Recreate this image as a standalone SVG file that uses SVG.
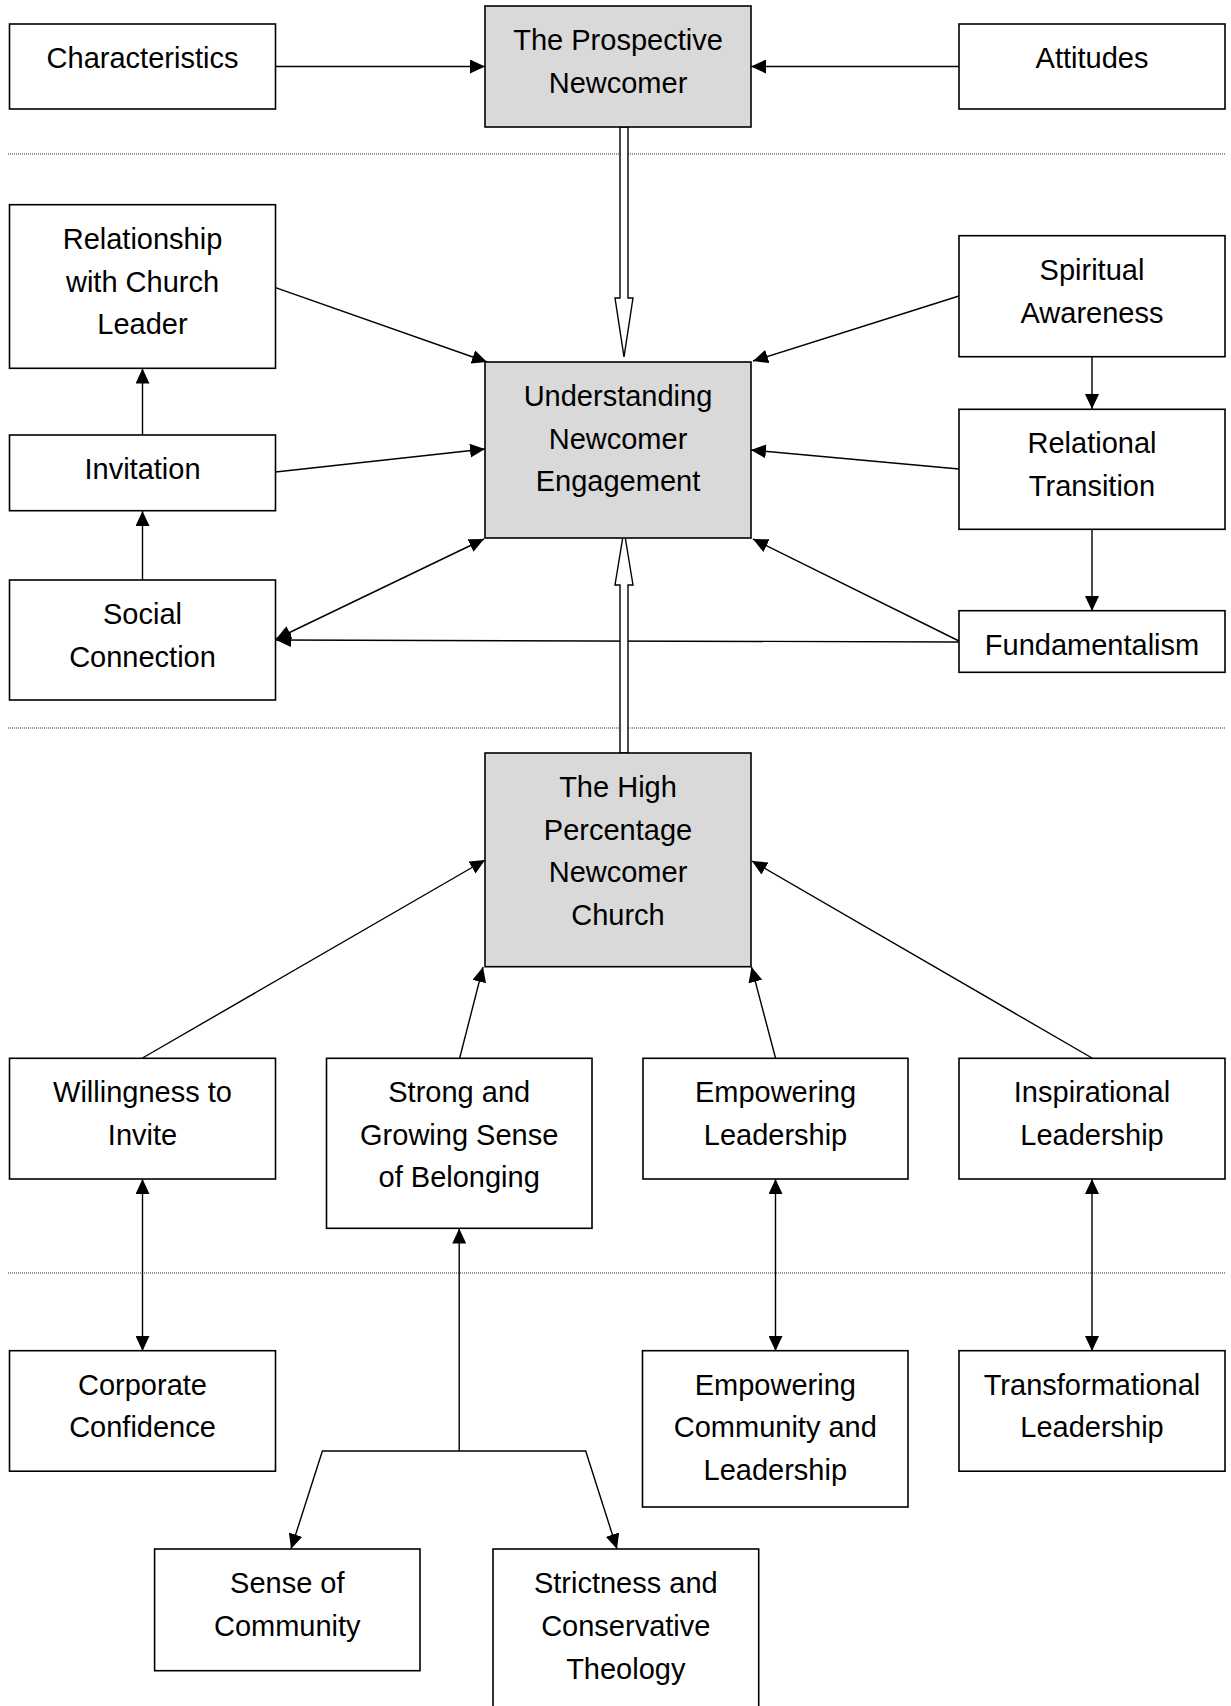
<svg xmlns="http://www.w3.org/2000/svg" width="1231" height="1706" viewBox="0 0 1231 1706">
<style>
.box{fill:#fff;stroke:#000;stroke-width:1.6}
.core{fill:#d9d9d9;stroke:#000;stroke-width:1.6}
.t{font-family:"Liberation Sans",Arial,sans-serif;font-size:29px;fill:#000;text-anchor:middle}
.ln{fill:none;stroke:#000;stroke-width:1.4}
.dot{fill:none;stroke:#333;stroke-width:1;stroke-dasharray:1 1}
.hollow{fill:#fff;stroke:#000;stroke-width:1.4}
</style>
<defs>
<marker id="ah" markerUnits="userSpaceOnUse" markerWidth="16" markerHeight="14" refX="15" refY="7" orient="auto-start-reverse" viewBox="0 0 16 14">
<path d="M0,0 L15,7 L0,14 z" fill="#000"/>
</marker>
</defs>
<rect width="1231" height="1706" fill="#fff"/>
<g id="separators">
<line class="dot" x1="8" y1="154" x2="1225" y2="154"/>
<line class="dot" x1="8" y1="728" x2="1225" y2="728"/>
<line class="dot" x1="8" y1="1273" x2="1225" y2="1273"/>
</g>
<g id="connectors">
<line class="ln" x1="275.5" y1="66.5" x2="485" y2="66.5" marker-end="url(#ah)"/>
<line class="ln" x1="959" y1="66.5" x2="751" y2="66.5" marker-end="url(#ah)"/>
<line class="ln" x1="275.5" y1="287.7" x2="487" y2="362" marker-end="url(#ah)"/>
<line class="ln" x1="959" y1="296" x2="753" y2="361" marker-end="url(#ah)"/>
<line class="ln" x1="275.5" y1="472" x2="485" y2="449" marker-end="url(#ah)"/>
<line class="ln" x1="959" y1="469" x2="751" y2="450" marker-end="url(#ah)"/>
<line class="ln" x1="959" y1="641" x2="753" y2="539" marker-end="url(#ah)"/>
<line class="ln" x1="276" y1="639" x2="484" y2="539" marker-start="url(#ah)" marker-end="url(#ah)"/>
<line class="ln" x1="959" y1="642" x2="276" y2="640" marker-end="url(#ah)"/>
<line class="ln" x1="1092" y1="357" x2="1092" y2="409" marker-end="url(#ah)"/>
<line class="ln" x1="1092" y1="529" x2="1092" y2="611" marker-end="url(#ah)"/>
<line class="ln" x1="142.5" y1="435" x2="142.5" y2="368.5" marker-end="url(#ah)"/>
<line class="ln" x1="142.5" y1="580" x2="142.5" y2="511" marker-end="url(#ah)"/>
<line class="ln" x1="142.5" y1="1058" x2="485" y2="860" marker-end="url(#ah)"/>
<line class="ln" x1="459.7" y1="1058" x2="483" y2="967" marker-end="url(#ah)"/>
<line class="ln" x1="775.5" y1="1058" x2="751.5" y2="967" marker-end="url(#ah)"/>
<line class="ln" x1="1092" y1="1058" x2="752" y2="861" marker-end="url(#ah)"/>
<line class="ln" x1="142.5" y1="1179" x2="142.5" y2="1351" marker-start="url(#ah)" marker-end="url(#ah)"/>
<line class="ln" x1="775.5" y1="1179" x2="775.5" y2="1351" marker-start="url(#ah)" marker-end="url(#ah)"/>
<line class="ln" x1="1092" y1="1179" x2="1092" y2="1351" marker-start="url(#ah)" marker-end="url(#ah)"/>
<line class="ln" x1="459.2" y1="1451" x2="459.2" y2="1228.5" marker-end="url(#ah)"/>
<polyline class="ln" points="291,1549 322.4,1451 585.7,1451 617,1549" marker-start="url(#ah)" marker-end="url(#ah)"/>
<polygon class="hollow" points="620,127 628,127 628,298 633,298 624,357 615,298 620,298"/>
<polygon class="hollow" points="620,753 628,753 628,585 633,585 624,530 615,585 620,585"/>
</g>
<g id="n-characteristics"><rect class="box" x="9.5" y="24" width="266" height="85"/><text class="t" x="142.5" y="68">Characteristics</text></g>
<g id="n-prospective"><rect class="core" x="485" y="6" width="266" height="121"/><text class="t" x="618" y="50">The Prospective</text><text class="t" x="618" y="93">Newcomer</text></g>
<g id="n-attitudes"><rect class="box" x="959" y="24" width="266" height="85"/><text class="t" x="1092" y="68">Attitudes</text></g>
<g id="n-relationship"><rect class="box" x="9.5" y="204.7" width="266" height="163.6"/><text class="t" x="142.5" y="249">Relationship</text><text class="t" x="142.5" y="291.7">with Church</text><text class="t" x="142.5" y="334.4">Leader</text></g>
<g id="n-understanding"><rect class="core" x="485" y="362" width="266" height="176"/><text class="t" x="618" y="406">Understanding</text><text class="t" x="618" y="448.7">Newcomer</text><text class="t" x="618" y="491.4">Engagement</text></g>
<g id="n-spiritual"><rect class="box" x="959" y="235.7" width="266" height="121"/><text class="t" x="1092" y="280">Spiritual</text><text class="t" x="1092" y="322.7">Awareness</text></g>
<g id="n-invitation"><rect class="box" x="9.5" y="435" width="266" height="75.7"/><text class="t" x="142.5" y="479">Invitation</text></g>
<g id="n-relational"><rect class="box" x="959" y="409.3" width="266" height="120"/><text class="t" x="1092" y="453.3">Relational</text><text class="t" x="1092" y="496">Transition</text></g>
<g id="n-social"><rect class="box" x="9.5" y="580" width="266" height="120"/><text class="t" x="142.5" y="624">Social</text><text class="t" x="142.5" y="666.7">Connection</text></g>
<g id="n-fundamentalism"><rect class="box" x="959" y="610.7" width="266" height="61.6"/><text class="t" x="1092" y="655">Fundamentalism</text></g>
<g id="n-high"><rect class="core" x="485" y="753" width="266" height="213.7"/><text class="t" x="618" y="797">The High</text><text class="t" x="618" y="839.7">Percentage</text><text class="t" x="618" y="882.4">Newcomer</text><text class="t" x="618" y="925.1">Church</text></g>
<g id="n-willingness"><rect class="box" x="9.5" y="1058.3" width="266" height="120.7"/><text class="t" x="142.5" y="1102">Willingness to</text><text class="t" x="142.5" y="1144.7">Invite</text></g>
<g id="n-strong"><rect class="box" x="326.5" y="1058.3" width="265.5" height="170"/><text class="t" x="459.2" y="1102">Strong and</text><text class="t" x="459.2" y="1144.7">Growing Sense</text><text class="t" x="459.2" y="1187.4">of Belonging</text></g>
<g id="n-empowering"><rect class="box" x="643" y="1058.3" width="265" height="120.7"/><text class="t" x="775.5" y="1102">Empowering</text><text class="t" x="775.5" y="1144.7">Leadership</text></g>
<g id="n-inspirational"><rect class="box" x="959" y="1058.3" width="266" height="120.7"/><text class="t" x="1092" y="1102">Inspirational</text><text class="t" x="1092" y="1144.7">Leadership</text></g>
<g id="n-corporate"><rect class="box" x="9.5" y="1350.7" width="266" height="120.5"/><text class="t" x="142.5" y="1394.5">Corporate</text><text class="t" x="142.5" y="1437.2">Confidence</text></g>
<g id="n-empcommunity"><rect class="box" x="642.5" y="1350.7" width="265.5" height="156.3"/><text class="t" x="775.3" y="1394.5">Empowering</text><text class="t" x="775.3" y="1437.2">Community and</text><text class="t" x="775.3" y="1479.9">Leadership</text></g>
<g id="n-transformational"><rect class="box" x="959" y="1350.7" width="266" height="120.5"/><text class="t" x="1092" y="1394.5">Transformational</text><text class="t" x="1092" y="1437.2">Leadership</text></g>
<g id="n-sense"><rect class="box" x="154.6" y="1549" width="265.4" height="121.7"/><text class="t" x="287.3" y="1593.3">Sense of</text><text class="t" x="287.3" y="1636">Community</text></g>
<g id="n-strictness"><rect class="box" x="493" y="1549" width="265.7" height="170"/><text class="t" x="625.8" y="1593.3">Strictness and</text><text class="t" x="625.8" y="1636">Conservative</text><text class="t" x="625.8" y="1678.7">Theology</text></g>
</svg>
